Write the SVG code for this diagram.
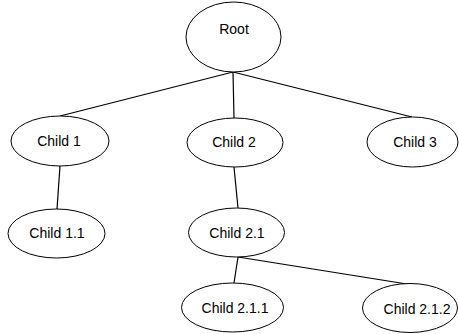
<svg xmlns="http://www.w3.org/2000/svg" width="459" height="334" viewBox="0 0 459 334">
<style>
.n ellipse{fill:#fff;stroke:#000;stroke-width:1}
.n text{font-family:"Liberation Sans",Arial,sans-serif;font-size:14px;fill:#000;text-anchor:middle}
.c line{stroke:#000;stroke-width:1.2}
</style>
<rect width="459" height="334" fill="#fff"/>
<g class="c" id="connectors">
<line x1="233" y1="72" x2="60" y2="116"/>
<line x1="233" y1="72" x2="234" y2="118"/>
<line x1="233" y1="72" x2="412" y2="117"/>
<line x1="60" y1="166" x2="57" y2="209"/>
<line x1="234" y1="167" x2="238" y2="208"/>
<line x1="238" y1="257" x2="234" y2="283"/>
<line x1="238" y1="257" x2="413" y2="285"/>
</g>
<g class="n" id="root"><ellipse cx="233.5" cy="37" rx="47.5" ry="35"/><text x="234" y="34">Root</text></g>
<g class="n" id="child1"><ellipse cx="60" cy="141" rx="49" ry="25"/><text x="59" y="146">Child 1</text></g>
<g class="n" id="child2"><ellipse cx="235" cy="142.5" rx="48" ry="24.5"/><text x="234" y="147">Child 2</text></g>
<g class="n" id="child3"><ellipse cx="412.5" cy="142" rx="45.5" ry="25"/><text x="415" y="147">Child 3</text></g>
<g class="n" id="child1_1"><ellipse cx="56.5" cy="233.5" rx="48.5" ry="24.5"/><text x="57" y="238">Child 1.1</text></g>
<g class="n" id="child2_1"><ellipse cx="236.5" cy="232.5" rx="48" ry="24.5"/><text x="237" y="238">Child 2.1</text></g>
<g class="n" id="child2_1_1"><ellipse cx="232.5" cy="307.5" rx="51" ry="24.5"/><text x="235" y="313">Child 2.1.1</text></g>
<g class="n" id="child2_1_2"><ellipse cx="410" cy="308" rx="47.5" ry="24.5"/><text x="417" y="314">Child 2.1.2</text></g>
</svg>
